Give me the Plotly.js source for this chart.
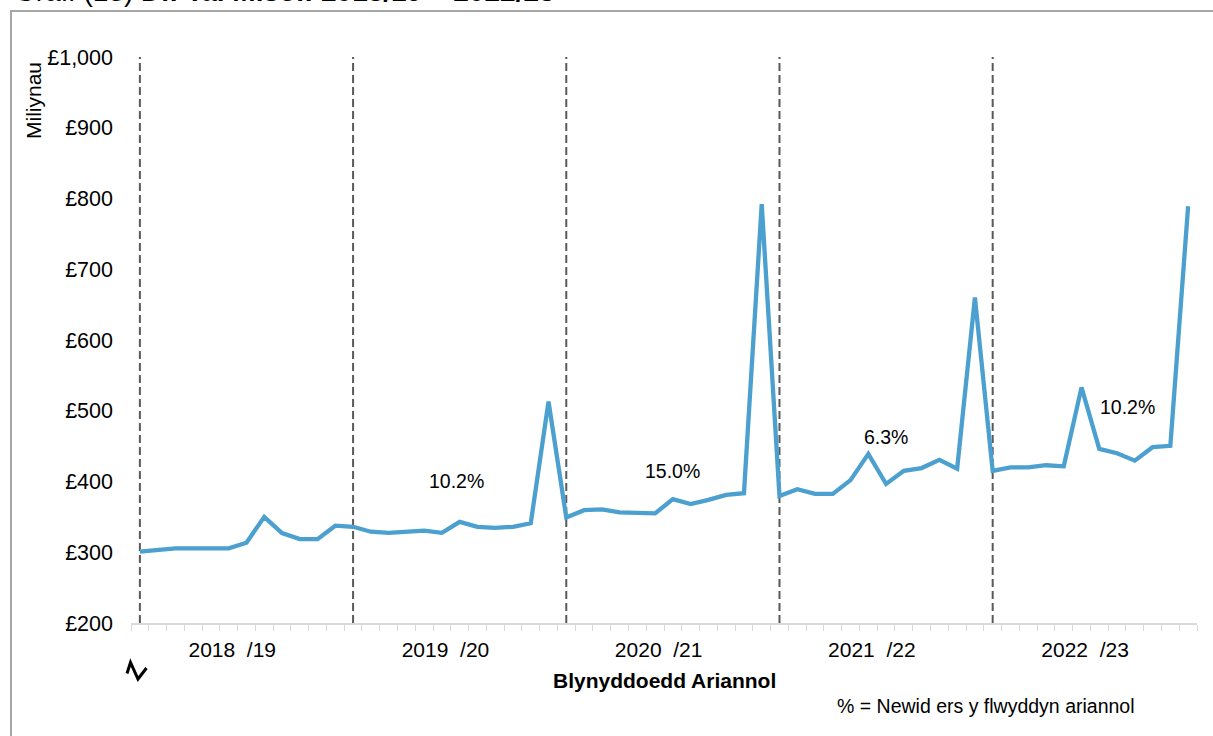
<!DOCTYPE html>
<html>
<head>
<meta charset="utf-8">
<script src="https://cdn.plot.ly/plotly-3.0.1.min.js"></script>
<style>
  html, body { margin: 0; padding: 0; background: #ffffff; }
  #chart { width: 1213px; height: 736px; }
</style>
</head>
<body>
<div id="chart"></div>
<script>
// ---- Data ----
const financialYears = ["2018/19", "2019/20", "2020/21", "2021/22", "2022/23"];
const yearTickLabels = ["2018\u00A0\u00A0/19", "2019\u00A0\u00A0/20", "2020\u00A0\u00A0/21", "2021\u00A0\u00A0/22", "2022\u00A0\u00A0/23"];
const monthNames = ["Ebr", "Mai", "Meh", "Gor", "Awst", "Medi", "Hyd", "Tach", "Rhag", "Ion", "Chwef", "Maw"];

const values2018 = [301, 304, 305.5, 305.5, 305.5, 305.5, 313.5, 350, 327, 318.5, 318.5, 337.5];
const values2019 = [336, 329, 327.5, 329, 330.5, 327.5, 343, 336, 334.5, 336, 341, 513];
const values2020 = [349, 359.5, 360.5, 356.5, 356.5, 355, 375, 368, 374, 381, 383.5, 792];
const values2021 = [379.5, 389, 382.5, 382.5, 402, 439, 396.5, 415, 419, 430.5, 418, 660];
const values2022 = [415, 420, 420, 423, 421.5, 533, 446, 440, 429.5, 448.5, 450.5, 789];

const changeLabels = ["10.2%", "15.0%", "6.3%", "10.2%"];
const changeLabelX = [17.8, 30.0, 42.0, 55.6];      // month index where the label sits
const changeLabelY = [401, 415, 463, 505];          // £ millions level of the label

const titleText = "Graff (13) <b>Di: Tal Misol: 2018/19 \u2013 2022/23</b>";
const yTitle = "Miliynau";
const xTitle = "<b>Blynyddoedd Ariannol</b>";
const noteText = "% = Newid ers y flwyddyn ariannol";

// ---- Build tables ----
const allValues = [].concat(values2018, values2019, values2020, values2021, values2022);
const months = [];
financialYears.forEach(fy => monthNames.forEach(m => months.push(m + " " + fy)));
const yearStartIdx = financialYears.map((_, i) => i * monthNames.length);
const yearLabelPos = yearStartIdx.map(i => i + 5.2);

// ---- Geometry helpers (pixel -> paper) ----
const W = 1213, H = 736;
const L = 131, R = 16, T = 57, B = 113;
const pw = W - L - R, ph = H - T - B;
const px = x => (x - L) / pw;
const py = y => (H - B - y) / ph;

const FONT = "Liberation Sans, Arial, sans-serif";

const trace = {
  type: "scatter",
  mode: "lines",
  x: months,
  y: allValues,
  line: { color: "#4BA0CF", width: 4.3 },
  hoverinfo: "x+y"
};

const shapes = yearStartIdx.map(i => ({
  type: "line", xref: "x", yref: "y",
  x0: months[i], x1: months[i], y0: 200, y1: 1000,
  line: { color: "#595959", width: 2, dash: "8px,4px" },
  layer: "below"
}));
// chart frame (extends past right and bottom edges)
shapes.push({
  type: "path", xref: "paper", yref: "paper",
  path: `M ${px(11)} ${py(745)} L ${px(11)} ${py(11)} L ${px(1225)} ${py(11)}`,
  line: { color: "#A6A6A6", width: 2 }
});
// axis break symbol
shapes.push({
  type: "path", xref: "paper", yref: "paper",
  path: `M ${px(127)} ${py(673.5)} L ${px(130.5)} ${py(662.5)} L ${px(138)} ${py(679)} L ${px(146.5)} ${py(668)}`,
  line: { color: "#000000", width: 3 }
});

const annotations = changeLabels.map((t, i) => ({
  xref: "x2", yref: "y", x: changeLabelX[i], y: changeLabelY[i],
  text: t, showarrow: false,
  font: { family: FONT, size: 19.5, color: "#000000" },
  xanchor: "center", yanchor: "middle"
}));
annotations.push({
  xref: "paper", yref: "paper", x: px(12), y: py(8.5),
  xanchor: "left", yanchor: "bottom", showarrow: false,
  text: titleText, font: { family: FONT, size: 28, color: "#000000" }
});
annotations.push({
  xref: "paper", yref: "paper", x: px(33), y: py(101),
  xanchor: "center", yanchor: "middle", showarrow: false, textangle: -90,
  text: yTitle, font: { family: FONT, size: 21, color: "#000000" }
});
annotations.push({
  xref: "paper", yref: "paper", x: px(664.5), y: py(680),
  xanchor: "center", yanchor: "middle", showarrow: false,
  text: xTitle, font: { family: FONT, size: 21, color: "#000000" }
});
annotations.push({
  xref: "paper", yref: "paper", x: px(985.5), y: py(706),
  xanchor: "center", yanchor: "middle", showarrow: false,
  text: noteText, font: { family: FONT, size: 19.5, color: "#000000" }
});

const layout = {
  width: W, height: H,
  margin: { l: L, r: R, t: T, b: B, pad: 0 },
  paper_bgcolor: "#ffffff",
  plot_bgcolor: "#ffffff",
  showlegend: false,
  xaxis: {
    type: "category",
    range: [-0.5, months.length - 0.5],
    showgrid: false, zeroline: false,
    showline: true, linecolor: "#D9D9D9", linewidth: 2,
    ticks: "outside", tickson: "boundaries", ticklen: 6, tickcolor: "#D9D9D9", tickwidth: 1,
    showticklabels: false
  },
  xaxis2: {
    overlaying: "x", anchor: "y", side: "bottom",
    range: [-0.5, months.length - 0.5],
    showgrid: false, zeroline: false, showline: false,
    tickmode: "array", tickvals: yearLabelPos, ticktext: yearTickLabels,
    ticks: "", ticklabelstandoff: 12,
    tickfont: { family: FONT, size: 21, color: "#000000" }
  },
  yaxis: {
    range: [200, 1000],
    tickmode: "linear", tick0: 200, dtick: 100,
    tickprefix: "£", tickformat: ",",
    showgrid: false, zeroline: false, showline: false,
    ticks: "", ticklabelstandoff: 17,
    tickfont: { family: FONT, size: 21.5, color: "#000000" }
  },
  shapes: shapes,
  annotations: annotations
};

const trace2 = { type: "scatter", mode: "none", x: [0, months.length - 1], y: [200, 200], xaxis: "x2", yaxis: "y", hoverinfo: "skip" };

Plotly.newPlot("chart", [trace, trace2], layout, { displayModeBar: false, staticPlot: false });
</script>
</body>
</html>
